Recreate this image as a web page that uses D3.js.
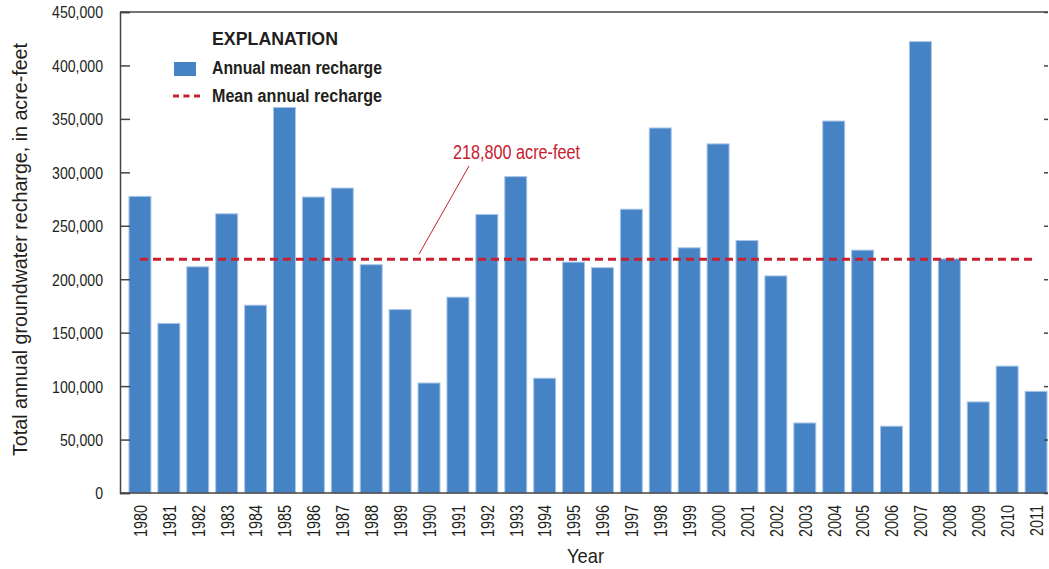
<!DOCTYPE html>
<html>
<head>
<meta charset="utf-8">
<script src="https://cdn.jsdelivr.net/npm/d3@7"></script>
<style>
  body { margin: 0; background: #fff; }
  svg { display: block; font-family: "Liberation Sans", Arial, sans-serif; }
</style>
</head>
<body>
<svg id="recharge-chart"></svg>
<script>
////////////////////////////////////////////////////////////////////////////////
////////////////////////////////////////////////////////////////////// Data
////////////////////////////////////////////////////////////////////////////////

const years = [
  "1980", "1981", "1982", "1983", "1984", "1985", "1986", "1987",
  "1988", "1989", "1990", "1991", "1992", "1993", "1994", "1995",
  "1996", "1997", "1998", "1999", "2000", "2001", "2002", "2003",
  "2004", "2005", "2006", "2007", "2008", "2009", "2010", "2011"
];
const annualRecharge = [
  277500, 158700, 211600, 261200, 175700, 360700, 276900, 285300,
  213600, 171600, 102900, 183200, 260600, 296000, 107400, 216000,
  210800, 265500, 341500, 229400, 326600, 236200, 203100, 65500,
  348000, 227200, 62500, 422300, 219000, 85200, 118700, 95100
];
const meanRecharge = 218800;
const yTicks = [0, 50000, 100000, 150000, 200000, 250000, 300000, 350000, 400000, 450000];

////////////////////////////////////////////////////////////////////////////////
///////////////////////////////////////////////////////////////////// Chart
////////////////////////////////////////////////////////////////////////////////

const W = 1049, H = 569;
const plot = { left: 120, right: 1048, top: 12, bottom: 493 };
// condensed look: Liberation Sans squeezed sideways
const narrowY = 0.855;
const narrowX = 0.76;
const ink = "#231f20";
const red = "#c8202f";
const blue = "#4683c4";

const svg = d3.select("#recharge-chart")
              .attr("width", W)
              .attr("height", H);

svg.append("rect")
     .attr("width", W)
     .attr("height", H)
     .attr("fill", "#fff");

// scales
const xScale = d3.scaleBand()
                 .domain(years)
                 .range([125.5, 1050.5])
                 .paddingInner(0.24)
                 .paddingOuter(0.12);
const yScale = d3.scaleLinear()
                 .domain([0, 450000])
                 .range([plot.bottom, plot.top]);

// bars
svg.selectAll(".bar")
  .data(years)
  .join("rect")
    .attr("class", "bar")
    .attr("x", d => xScale(d))
    .attr("width", xScale.bandwidth())
    .attr("y", (d, i) => yScale(annualRecharge[i]))
    .attr("height", (d, i) => yScale(0) - yScale(annualRecharge[i]))
    .attr("fill", blue)
    .attr("stroke", "#a9c6e8")
    .attr("stroke-width", 1);

// mean line
svg.append("line")
     .attr("x1", xScale(years[0]) + xScale.bandwidth() / 2)
     .attr("x2", xScale(years[years.length - 1]) + xScale.bandwidth() / 2 - 3)
     .attr("y1", yScale(meanRecharge))
     .attr("y2", yScale(meanRecharge))
     .attr("stroke", red)
     .attr("stroke-width", 3)
     .attr("stroke-dasharray", "8,5");

// left axis
const yAxisLeft = d3.axisLeft(yScale)
                    .tickValues(yTicks)
                    .tickSize(-10)
                    .tickFormat(d3.format(","));
const yAxisG = svg.append("g")
                    .attr("class", "yAxis")
                    .attr("transform", `translate(${plot.left},0)`)
                    .call(yAxisLeft);
yAxisG.selectAll("text")
        .attr("x", -17 / narrowY)
        .attr("dy", "0.36em")
        .attr("transform", `scale(${narrowY},1)`)
        .style("text-anchor", "end")
        .style("font-size", "16.5px");

// right axis (ticks only)
const yAxisRight = d3.axisRight(yScale)
                     .tickValues(yTicks)
                     .tickSize(-4)
                     .tickFormat("");
svg.append("g")
     .attr("class", "yAxisRight")
     .attr("transform", `translate(${plot.right},0)`)
     .call(yAxisRight);

// bottom axis
const xAxis = d3.axisBottom(xScale)
                .tickSize(0)
                .tickPadding(0);
const xAxisG = svg.append("g")
                    .attr("class", "xAxis")
                    .attr("transform", `translate(0,${plot.bottom})`)
                    .call(xAxis);
xAxisG.selectAll("text")
        .attr("transform", `rotate(-90) scale(${narrowX},1)`)
        .attr("x", -12 / narrowX)
        .attr("y", 0)
        .attr("dy", "0.36em")
        .style("text-anchor", "end")
        .style("font-size", "19px");

svg.selectAll(".domain")
     .attr("stroke", "#444")
     .attr("stroke-width", 1.5);
svg.select(".xAxis .domain")
     .attr("d", `M${plot.left},0H${plot.right}`);
svg.select(".yAxisRight .domain").remove();
svg.selectAll(".tick line")
     .attr("stroke", "#444")
     .attr("stroke-width", 1.5);
svg.selectAll(".yAxis text, .xAxis text")
     .attr("fill", ink)
     .style("font-family", "'Liberation Sans', Arial, sans-serif");

// top border
svg.append("line")
     .attr("x1", plot.left)
     .attr("x2", plot.right)
     .attr("y1", plot.top)
     .attr("y2", plot.top)
     .attr("stroke", "#444")
     .attr("stroke-width", 1.5);

// annotation
svg.append("line")
     .attr("x1", 469)
     .attr("y1", 166)
     .attr("x2", 419)
     .attr("y2", yScale(meanRecharge) - 5)
     .attr("stroke", red)
     .attr("stroke-width", 1);
svg.append("text")
     .attr("x", 453)
     .attr("y", 159)
     .attr("fill", red)
     .attr("textLength", 127)
     .attr("lengthAdjust", "spacingAndGlyphs")
     .style("font-size", "19.5px")
     .text("218,800 acre-feet");

// legend
svg.append("text")
     .attr("x", 212)
     .attr("y", 45)
     .attr("fill", ink)
     .attr("textLength", 126)
     .attr("lengthAdjust", "spacingAndGlyphs")
     .style("font-size", "18px")
     .style("font-weight", "bold")
     .text("EXPLANATION");
svg.append("rect")
     .attr("x", 174)
     .attr("y", 62)
     .attr("width", 22)
     .attr("height", 14)
     .attr("fill", blue);
svg.append("text")
     .attr("x", 212)
     .attr("y", 74)
     .attr("fill", ink)
     .attr("textLength", 170)
     .attr("lengthAdjust", "spacingAndGlyphs")
     .style("font-size", "17.5px")
     .style("font-weight", "bold")
     .text("Annual mean recharge");
svg.append("line")
     .attr("x1", 173)
     .attr("x2", 200)
     .attr("y1", 96)
     .attr("y2", 96)
     .attr("stroke", red)
     .attr("stroke-width", 3)
     .attr("stroke-dasharray", "6,4.5");
svg.append("text")
     .attr("x", 212)
     .attr("y", 102)
     .attr("fill", ink)
     .attr("textLength", 170)
     .attr("lengthAdjust", "spacingAndGlyphs")
     .style("font-size", "17.5px")
     .style("font-weight", "bold")
     .text("Mean annual recharge");

// axis titles
svg.append("text")
     .attr("x", 567)
     .attr("y", 563)
     .attr("fill", ink)
     .attr("textLength", 37)
     .attr("lengthAdjust", "spacingAndGlyphs")
     .style("font-size", "21px")
     .text("Year");
svg.append("text")
     .attr("transform", "rotate(-90)")
     .attr("x", -456)
     .attr("y", 27)
     .attr("fill", ink)
     .attr("textLength", 413)
     .attr("lengthAdjust", "spacingAndGlyphs")
     .style("font-size", "20px")
     .text("Total annual groundwater recharge, in acre-feet");
</script>
</body>
</html>
